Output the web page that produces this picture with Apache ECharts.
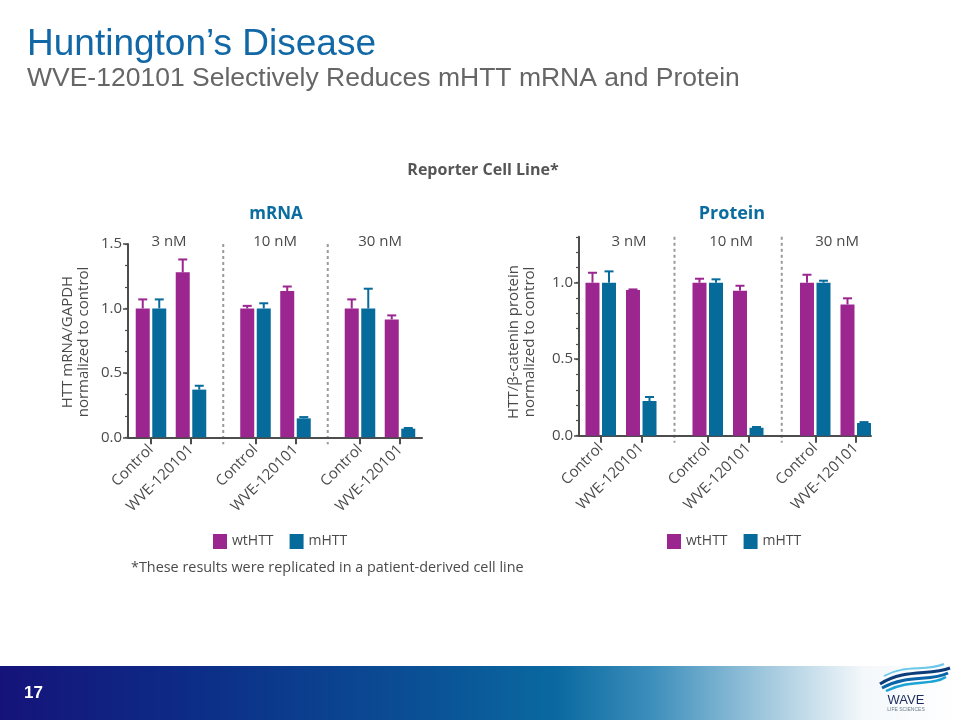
<!DOCTYPE html>
<html><head><meta charset="utf-8">
<script src="https://cdn.jsdelivr.net/npm/echarts@6/dist/echarts.min.js"></script>
<style>html,body{margin:0;padding:0;background:#fff}#chart{width:960px;height:720px}</style>
</head><body><div id="chart"></div>
<script>
// ---------------- data ----------------
const doses = ['3 nM', '10 nM', '30 nM'];
const treatments = ['Control', 'WVE-120101'];
const seriesNames = ['wtHTT', 'mHTT'];
// order: 3nM Control, 3nM WVE, 10nM Control, 10nM WVE, 30nM Control, 30nM WVE
const mrnaWt     = [1.00, 1.28, 1.00, 1.135, 1.00, 0.915];
const mrnaWtErr  = [0.07, 0.10, 0.02, 0.035, 0.07, 0.031];
const mrnaMut    = [1.00, 0.37, 1.00, 0.147, 1.00, 0.067];
const mrnaMutErr = [0.07, 0.03, 0.04, 0.010, 0.153, 0.005];
const protWt     = [1.00, 0.952, 1.00, 0.948, 1.00, 0.858];
const protWtErr  = [0.065, 0.004, 0.026, 0.032, 0.052, 0.040];
const protMut    = [1.00, 0.227, 1.00, 0.052, 1.00, 0.083];
const protMutErr = [0.074, 0.026, 0.022, 0.005, 0.013, 0.006];
const mrnaTickLabels = [0, 0.5, 1.0, 1.5];
const protTickLabels = [0, 0.5, 1.0];

// ---------------- style / layout ----------------
const COLORS = ['#9b268f', '#066b9b'];
const TEXT = '#4a4a4a';
const AXIS = '#4d4d4d';
const FONT = "'Open Sans', 'Noto Sans', sans-serif";
const BAR_W = 14, BAR_GAP = 0.18;
const BAR_OFF = (BAR_W + BAR_W * BAR_GAP) / 2;

const panels = [
  { title: 'mRNA', titleSize: 17, titleX: 276, yName: 'HTT mRNA/GAPDH\nnormalized to control', yNameX: 76,
    wt: mrnaWt, wtErr: mrnaWtErr, mut: mrnaMut, mutErr: mrnaMutErr, ticks: mrnaTickLabels,
    yMax: 1.5, minorStep: 0.5 / 3,
    axisLeft: 128, axisRight: 422, top: 244, bottom: 437.3,
    groupLeft: [131, 235.5, 340], groupW: 80, doseX: [169, 275, 380], legendLeft: 208 },
  { title: 'Protein', titleSize: 18, titleX: 732, yName: 'HTT/β-catenin protein\nnormalized to control', yNameX: 522,
    wt: protWt, wtErr: protWtErr, mut: protMut, mutErr: protMutErr, ticks: protTickLabels,
    yMax: 1.3, minorStep: 0.1,
    axisLeft: 579, axisRight: 871, top: 236.8, bottom: 435.7,
    groupLeft: [580.5, 687.5, 795], groupW: 81, doseX: [629, 731, 837], legendLeft: 662 }
];

function renderErr(params, api) {
  const cat = api.value(0), v = api.value(1), e = api.value(2), s = api.value(3);
  const base = api.coord([cat, v]);
  const top = api.coord([cat, v + e]);
  const x = base[0] + (s === 0 ? -1 : 1) * BAR_OFF;
  const color = COLORS[s];
  return { type: 'group', children: [
    { type: 'line', shape: { x1: x, y1: base[1], x2: x, y2: top[1] }, style: { stroke: color, lineWidth: 2 } },
    { type: 'line', shape: { x1: x - 4.5, y1: top[1], x2: x + 4.5, y2: top[1] }, style: { stroke: color, lineWidth: 2 } }
  ]};
}

const grid = [], xAxis = [], yAxis = [], series = [], graphic = [], legend = [];

panels.forEach((p, pi) => {
  const h = p.bottom - p.top;
  // overlay grid for continuous axes
  const og = grid.length;
  grid.push({ left: p.axisLeft, top: p.top, width: p.axisRight - p.axisLeft, height: h });
  xAxis.push({ gridIndex: og, type: 'value', min: 0, max: 1, position: 'bottom',
    axisLine: { show: true, lineStyle: { color: AXIS, width: 2 } },
    axisTick: { show: false }, axisLabel: { show: false }, splitLine: { show: false } });
  yAxis.push({ gridIndex: og, type: 'value', min: 0, max: p.yMax, interval: 0.5, position: 'left',
    axisLine: { show: true, lineStyle: { color: AXIS, width: 2 } },
    axisTick: { show: true, length: 5, lineStyle: { color: AXIS, width: 1.5 }, customValues: p.ticks },
    axisLabel: { show: true, margin: 6, fontSize: 15, color: TEXT, fontFamily: FONT, customValues: p.ticks,
      formatter: v => (Math.abs(v / 0.5 - Math.round(v / 0.5)) < 1e-6 ? v.toFixed(1) : '') },
    splitLine: { show: false } });
  yAxis.push({ gridIndex: og, type: 'value', min: 0, max: p.yMax, interval: p.minorStep, position: 'left',
    axisLine: { show: false }, axisLabel: { show: false }, splitLine: { show: false },
    axisTick: { show: true, length: 3, lineStyle: { color: AXIS, width: 1.2 } } });
  series.push({ type: 'line', xAxisIndex: xAxis.length - 1, yAxisIndex: yAxis.length - 2, data: [], silent: true });

  // group grids
  p.groupLeft.forEach((gl, gi) => {
    const gIdx = grid.length;
    grid.push({ left: gl, top: p.top, width: p.groupW, height: h });
    xAxis.push({ gridIndex: gIdx, type: 'category', data: treatments,
      axisLine: { show: false },
      axisTick: { show: true, alignWithLabel: true, length: 7, lineStyle: { color: AXIS, width: 2 } },
      axisLabel: { rotate: 45, fontSize: 15, color: TEXT, fontFamily: FONT, margin: 10, interval: 0 } });
    yAxis.push({ gridIndex: gIdx, type: 'value', min: 0, max: p.yMax, show: false });
    const xi = xAxis.length - 1, yi = yAxis.length - 1;
    const wt = p.wt.slice(gi * 2, gi * 2 + 2), wtE = p.wtErr.slice(gi * 2, gi * 2 + 2);
    const mu = p.mut.slice(gi * 2, gi * 2 + 2), muE = p.mutErr.slice(gi * 2, gi * 2 + 2);
    series.push({ type: 'bar', name: seriesNames[0], xAxisIndex: xi, yAxisIndex: yi, data: wt,
      barWidth: BAR_W, barGap: (BAR_GAP * 100) + '%', itemStyle: { color: COLORS[0] } });
    series.push({ type: 'bar', name: seriesNames[1], xAxisIndex: xi, yAxisIndex: yi, data: mu,
      barWidth: BAR_W, barGap: (BAR_GAP * 100) + '%', itemStyle: { color: COLORS[1] } });
    series.push({ type: 'custom', xAxisIndex: xi, yAxisIndex: yi, renderItem: renderErr, silent: true, z: 3,
      data: [[0, wt[0], wtE[0], 0], [1, wt[1], wtE[1], 0], [0, mu[0], muE[0], 1], [1, mu[1], muE[1], 1]] });
    // dose label
    graphic.push({ type: 'text', x: p.doseX[gi], y: 242, style: { text: doses[gi], fill: TEXT, fontSize: 15,
      fontFamily: FONT, align: 'center', verticalAlign: 'middle' } });
  });
  // separators
  for (let k = 0; k < 2; k++) {
    const sx = (p.groupLeft[k] + p.groupW + p.groupLeft[k + 1]) / 2;
    graphic.push({ type: 'line', shape: { x1: sx, y1: p.top, x2: sx, y2: p.bottom + 7 },
      style: { stroke: '#9a9a9a', lineWidth: 2, lineDash: [3, 3] } });
  }
  // panel title
  graphic.push({ type: 'text', x: p.titleX, y: 214, style: { text: p.title, fill: '#0b6d9f', fontSize: p.titleSize,
    fontWeight: 'bold', fontFamily: FONT, align: 'center', verticalAlign: 'middle' } });
  // y axis name
  graphic.push({ type: 'text', x: p.yNameX, y: 342, rotation: Math.PI / 2, style: { text: p.yName, fill: TEXT,
    fontSize: 15, fontFamily: FONT, align: 'center', verticalAlign: 'middle', lineHeight: 16 } });
  legend.push({ left: p.legendLeft, top: 529, data: seriesNames, icon: 'rect', itemWidth: 14, itemHeight: 15,
    itemGap: 16, selectedMode: false, textStyle: { fontSize: 14, color: TEXT, fontFamily: FONT } });
});

// slide texts
graphic.push({ type: 'text', x: 27, y: 45, style: { text: 'Huntington’s Disease', fill: '#1268a6', fontSize: 37,
  fontFamily: "'Liberation Sans', Arial, sans-serif", verticalAlign: 'middle' } });
graphic.push({ type: 'text', x: 27, y: 79, style: { text: 'WVE-120101 Selectively Reduces mHTT mRNA and Protein',
  fill: '#666666', fontSize: 26.5, fontFamily: "'Liberation Sans', Arial, sans-serif", verticalAlign: 'middle' } });
graphic.push({ type: 'text', x: 483, y: 170, style: { text: 'Reporter Cell Line*', fill: '#555555', fontSize: 16,
  fontWeight: 'bold', fontFamily: FONT, align: 'center', verticalAlign: 'middle' } });
graphic.push({ type: 'text', x: 131, y: 568, style: { text: '*These results were replicated in a patient-derived cell line',
  fill: TEXT, fontSize: 14.4, fontFamily: FONT, verticalAlign: 'middle' } });

// footer band
graphic.push({ type: 'rect', shape: { x: 0, y: 666, width: 960, height: 54 }, style: { fill: {
  type: 'linear', x: 0, y: 0, x2: 1, y2: 0, colorStops: [
    { offset: 0, color: '#15137a' }, { offset: 0.22, color: '#0c2f88' }, { offset: 0.45, color: '#0a5296' },
    { offset: 0.58, color: '#0a69a0' }, { offset: 0.68, color: '#3d8fbc' }, { offset: 0.8, color: '#a3c9de' },
    { offset: 0.9, color: '#f4f8fb' }, { offset: 1, color: '#ffffff' } ] } } });
graphic.push({ type: 'text', x: 24, y: 693, style: { text: '17', fill: '#ffffff', fontSize: 17, fontWeight: 'bold',
  fontFamily: "'Liberation Sans', Arial, sans-serif", verticalAlign: 'middle' } });
// logo
[['#0c3d7a', 880, 684, 905, 668, 930, 676, 950, 668, 3],
 ['#0a64a8', 882, 688, 908, 674, 930, 682, 948, 673, 3],
 ['#1aa3d4', 886, 691, 910, 679, 932, 686, 946, 677, 2.5],
 ['#6cc8e8', 884, 676, 905, 664, 925, 672, 944, 664, 2]].forEach(c => {
  graphic.push({ type: 'bezierCurve', shape: { x1: c[1], y1: c[2], cpx1: c[3], cpy1: c[4], cpx2: c[5], cpy2: c[6], x2: c[7], y2: c[8] },
    style: { stroke: c[0], lineWidth: c[9], fill: null } });
});
graphic.push({ type: 'text', x: 906, y: 700, style: { text: 'WAVE', fill: '#1d2b5c', fontSize: 13, fontFamily: "'Liberation Sans', Arial, sans-serif",
  align: 'center', verticalAlign: 'middle' } });
graphic.push({ type: 'text', x: 906, y: 710, style: { text: 'LIFE SCIENCES', fill: '#6a7a8a', fontSize: 5, fontFamily: "'Liberation Sans', Arial, sans-serif",
  align: 'center', verticalAlign: 'middle' } });

const chart = echarts.init(document.getElementById('chart'), null, { renderer: 'canvas' });
chart.setOption({ animation: false, backgroundColor: '#ffffff', grid, xAxis, yAxis, series, legend, graphic });
</script></body></html>
